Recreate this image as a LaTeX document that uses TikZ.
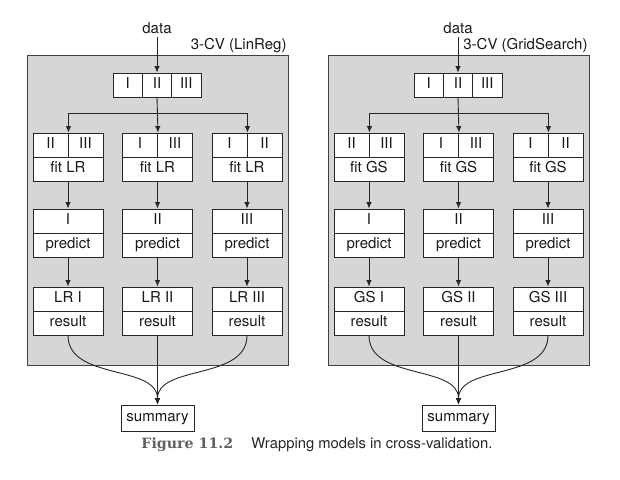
\documentclass[tikz,border=0pt]{standalone}
\usepackage{fontspec}
\setmainfont{TeX Gyre Heros}
\newfontfamily\figfont{DejaVu Serif}
\usetikzlibrary{arrows.meta}

\begin{document}
\begin{tikzpicture}[x=1pt, y=-1pt, line width=0.9pt, >={Latex[length=6.5pt,width=5.5pt]}, font=\fontsize{15}{17}\selectfont]
	\tikzstyle{panel} = [draw=black!75, fill=black!16, minimum width=261pt, minimum height=310pt, inner sep=0pt]
	\tikzstyle{cell}  = [draw=black!85, fill=white, minimum height=24pt, inner sep=0pt, text height=10.5pt, text depth=3pt, text=black!90]
	\tikzstyle{flow}  = [->, draw=black!85]

	\useasboundingbox (0,0) rectangle (620,479);

	\foreach \p/\ox/\m/\title in {L/0/LR/3-CV (LinReg), G/301/GS/3-CV (GridSearch)} {
		\node[panel] (\p-box) at (\ox+157.5, 210) {};
		\node[anchor=south east, inner sep=1.5pt, text=black!90] (\p-title) at (\p-box.north east) {\title};
		\node[text=black!90] (\p-data) at (\ox+157, 28) {data};

		% folds of the data
		\foreach \t [count=\k] in {I,II,III} {
			\pgfmathsetmacro\sx{\ox+157+(\k-2)*29.3}
			\node[cell, minimum width=29.3pt] (\p-s\k) at (\sx, 85) {\t};
		}

		\foreach \a/\b/\r [count=\j] in {II/III/I, I/III/II, I/II/III} {
			\pgfmathsetmacro\cx{\ox+68+(\j-1)*89.5}
			\node[cell, minimum width=35pt] (\p-f\j-a) at (\cx-17.5, 145) {\a};
			\node[cell, minimum width=35pt] (\p-f\j-b) at (\cx+17.5, 145) {\b};
			\node[cell, minimum width=70pt] (\p-fit\j) at (\cx, 169) {fit \m};
			\node[cell, minimum width=70pt] (\p-pt\j) at (\cx, 221) {\r};
			\node[cell, minimum width=70pt] (\p-pr\j) at (\cx, 245) {predict};
			\node[cell, minimum width=70pt] (\p-rt\j) at (\cx, 299) {\m\ \r};
			\node[cell, minimum width=70pt] (\p-rs\j) at (\cx, 323) {result};
		}

		\node[cell, minimum width=73pt, minimum height=26pt] (\p-sum) at (\ox+157.5, 418) {summary};

		\coordinate (\p-fork) at (\ox+157, 113);
		\draw[flow] (\p-data) -- (\p-s2.north);
		\draw[draw=black!85] (\p-f1-a.north east |- \p-fork) -- (\p-f3-a.north east |- \p-fork);
		\draw[flow] (\p-s2.south) -- (\p-f2-a.north east);
		\foreach \j in {1,3}
			\draw[flow] (\p-f\j-a.north east |- \p-fork) -- (\p-f\j-a.north east);
		\foreach \j in {1,2,3} {
			\draw[flow] (\p-fit\j) -- (\p-pt\j);
			\draw[flow] (\p-pr\j) -- (\p-rt\j);
		}
		\draw[flow] (\p-rs1.south) .. controls +(0,45) and +(0,-40) .. (\p-sum.north);
		\draw[flow] (\p-rs2.south) -- (\p-sum.north);
		\draw[flow] (\p-rs3.south) .. controls +(0,45) and +(0,-40) .. (\p-sum.north);
	}

	\node[anchor=west, inner sep=0pt, text=black!62, font=\figfont\bfseries\fontsize{14.2}{16}\selectfont] (fig) at (141, 445) {Figure 11.2};
	\node[anchor=west, inner sep=0pt, text=black!85, font=\fontsize{14.8}{16}\selectfont] (caption) at (251, 445) {Wrapping models in cross-validation.};
\end{tikzpicture}
\end{document}
